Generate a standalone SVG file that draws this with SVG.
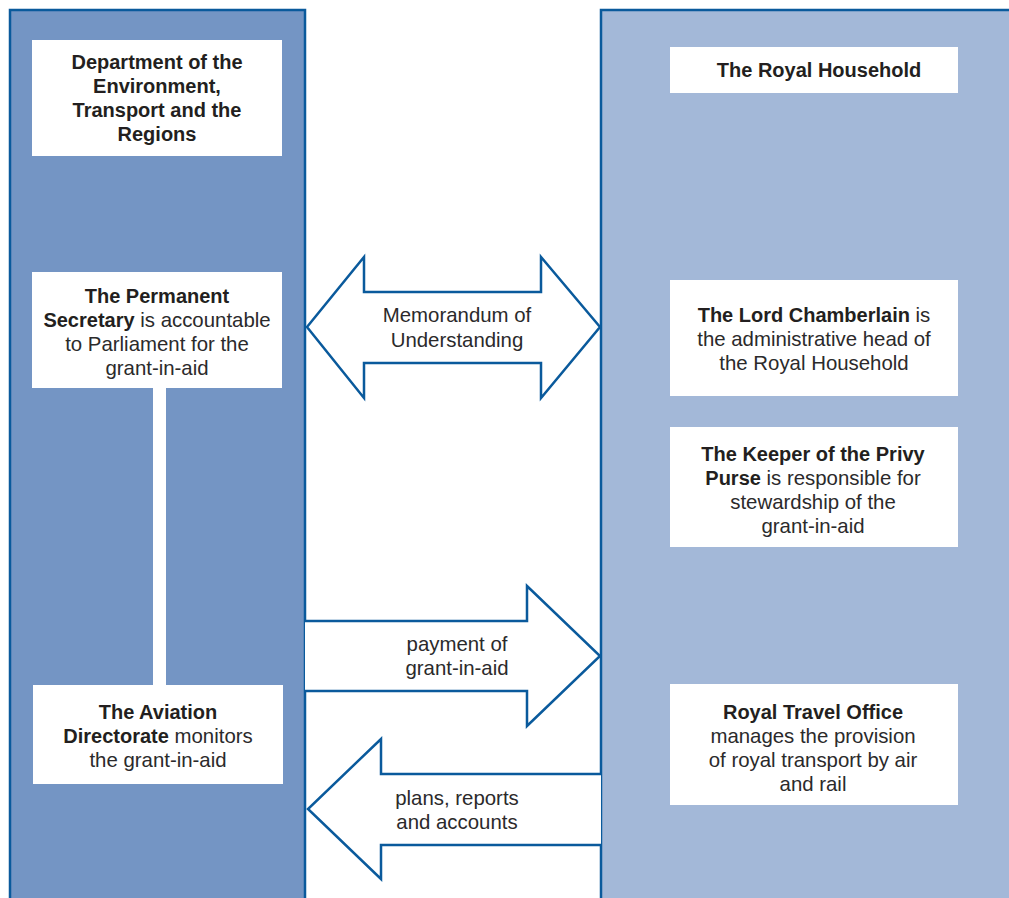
<svg xmlns="http://www.w3.org/2000/svg" width="1009" height="898" viewBox="0 0 1009 898">
<style>
.panel{stroke:#0a5a9c;stroke-width:2.5}
.box{fill:#ffffff}
.arrow{fill:#ffffff;stroke:#0a5a9c;stroke-width:2.5;stroke-linejoin:miter}
text{font-family:"Liberation Sans",Arial,sans-serif;font-size:20px;fill:#231f20;text-anchor:middle}
.b{font-weight:bold;font-size:20px}
.l{font-weight:normal;fill:#2b2a2b;font-size:20.4px}
</style>
<rect width="1009" height="898" fill="#ffffff"/>
<g id="left-panel">
<rect class="panel" x="10" y="10" width="295" height="900" fill="#7495c4"/>
</g>
<g id="right-panel">
<rect class="panel" x="601" y="10" width="420" height="900" fill="#a3b8d8"/>
</g>
<g id="connectors">
<rect x="153" y="386" width="13" height="301" fill="#ffffff"/>
<path class="arrow" d="M307,327 L364,257 L364,292 L541,292 L541,257 L600,327 L541,398 L541,363 L364,363 L364,398 Z"/>
<path class="arrow" d="M305,621 L527,621 L527,586 L600,656 L527,726 L527,691 L305,691"/>
<path class="arrow" d="M601,774 L381,774 L381,739 L308,809 L381,879 L381,845 L601,845"/>
<text class="l" x="457" y="322">Memorandum of</text>
<text class="l" x="457" y="347">Understanding</text>
<text class="l" x="457" y="651">payment of</text>
<text class="l" x="457" y="675">grant-in-aid</text>
<text class="l" x="457" y="805">plans, reports</text>
<text class="l" x="457" y="829">and accounts</text>
</g>
<g id="dept">
<rect class="box" x="32" y="40" width="250" height="116"/>
<text class="b" x="157" y="69">Department of the</text>
<text class="b" x="157" y="93">Environment,</text>
<text class="b" x="157" y="117">Transport and the</text>
<text class="b" x="157" y="141">Regions</text>
</g>
<g id="perm-sec">
<rect class="box" x="32" y="272" width="250" height="116"/>
<text class="b" x="157" y="303">The Permanent</text>
<text x="157" y="327"><tspan class="b">Secretary</tspan><tspan class="l"> is accountable</tspan></text>
<text class="l" x="157" y="351">to Parliament for the</text>
<text class="l" x="157" y="375">grant-in-aid</text>
</g>
<g id="aviation">
<rect class="box" x="33" y="685" width="250" height="99"/>
<text class="b" x="158" y="719">The Aviation</text>
<text x="158" y="743"><tspan class="b">Directorate</tspan><tspan class="l"> monitors</tspan></text>
<text class="l" x="158" y="767">the grant-in-aid</text>
</g>
<g id="royal-household">
<rect class="box" x="670" y="47" width="288" height="46"/>
<text class="b" x="819" y="77">The Royal Household</text>
</g>
<g id="lord-chamberlain">
<rect class="box" x="670" y="280" width="288" height="116"/>
<text x="814" y="322"><tspan class="b">The Lord Chamberlain</tspan><tspan class="l"> is</tspan></text>
<text class="l" x="814" y="346">the administrative head of</text>
<text class="l" x="814" y="370">the Royal Household</text>
</g>
<g id="keeper">
<rect class="box" x="670" y="427" width="288" height="120"/>
<text class="b" x="813" y="461">The Keeper of the Privy</text>
<text x="813" y="485"><tspan class="b">Purse</tspan><tspan class="l"> is responsible for</tspan></text>
<text class="l" x="813" y="509">stewardship of the</text>
<text class="l" x="813" y="533">grant-in-aid</text>
</g>
<g id="travel-office">
<rect class="box" x="670" y="684" width="288" height="121"/>
<text class="b" x="813" y="719">Royal Travel Office</text>
<text class="l" x="813" y="743">manages the provision</text>
<text class="l" x="813" y="767">of royal transport by air</text>
<text class="l" x="813" y="791">and rail</text>
</g>
</svg>
